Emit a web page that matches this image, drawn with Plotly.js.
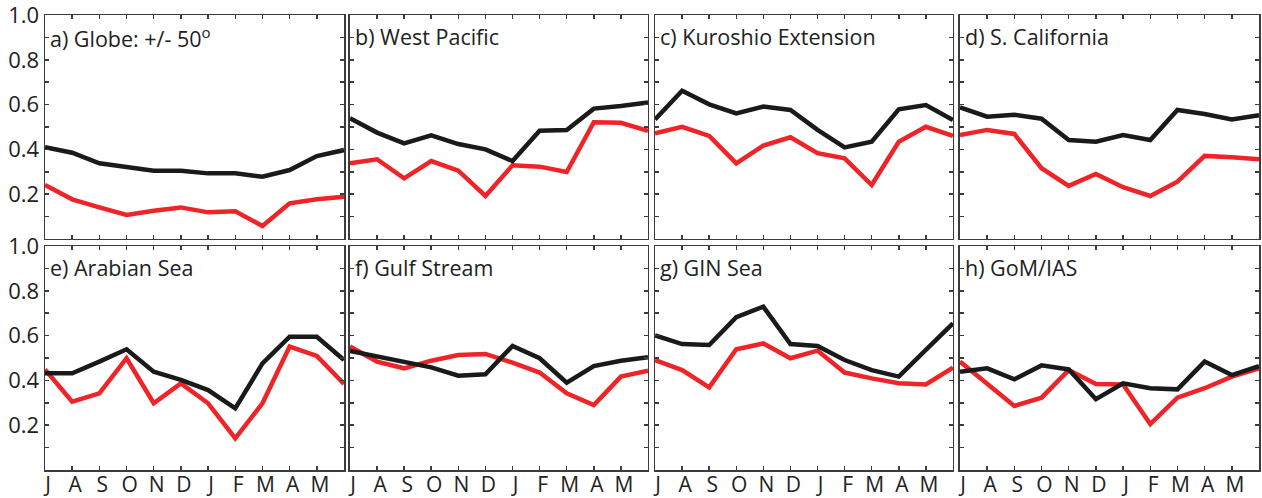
<!DOCTYPE html>
<html>
<head>
<meta charset="utf-8">
<script src="https://cdn.plot.ly/plotly-3.0.1.min.js"></script>
<style>
  html, body { margin: 0; padding: 0; background: #fff; }
  #chart { width: 1262px; height: 498px; }
</style>
</head>
<body>
<div id="chart"></div>
<script>
// Month labels, July through the following June
const monthLabels = ['J', 'A', 'S', 'O', 'N', 'D', 'J', 'F', 'M', 'A', 'M', ''];
const monthIndex = [0, 1, 2, 3, 4, 5, 6, 7, 8, 9, 10, 11];

// Panel titles
const panelTitles = [
  'a) Globe: +/- 50<sup>o</sup>', 'b) West Pacific', 'c) Kuroshio Extension', 'd) S. California',
  'e) Arabian Sea', 'f) Gulf Stream', 'g) GIN Sea', 'h) GoM/IAS'
];

// Black curve per region
const globeBlack     = [0.41, 0.385, 0.338, 0.323, 0.305, 0.305, 0.293, 0.293, 0.278, 0.308, 0.37, 0.397];
const westPacBlack   = [0.539, 0.475, 0.427, 0.463, 0.424, 0.400, 0.348, 0.483, 0.487, 0.582, 0.594, 0.609];
const kuroshioBlack  = [0.534, 0.662, 0.601, 0.561, 0.591, 0.576, 0.487, 0.409, 0.434, 0.579, 0.598, 0.531];
const sCalBlack      = [0.588, 0.546, 0.555, 0.537, 0.442, 0.434, 0.464, 0.442, 0.576, 0.558, 0.534, 0.552];
const arabianBlack   = [0.432, 0.432, 0.484, 0.539, 0.439, 0.402, 0.357, 0.275, 0.476, 0.595, 0.595, 0.491];
const gulfBlack      = [0.531, 0.506, 0.484, 0.458, 0.421, 0.427, 0.554, 0.499, 0.390, 0.464, 0.488, 0.503];
const ginBlack       = [0.601, 0.562, 0.558, 0.682, 0.729, 0.562, 0.554, 0.491, 0.446, 0.417, 0.536, 0.655];
const gomBlack       = [0.439, 0.454, 0.405, 0.467, 0.449, 0.316, 0.387, 0.365, 0.360, 0.484, 0.424, 0.464];

// Red curve per region
const globeRed       = [0.241, 0.177, 0.141, 0.107, 0.126, 0.141, 0.119, 0.124, 0.058, 0.159, 0.177, 0.189];
const westPacRed     = [0.338, 0.356, 0.271, 0.348, 0.305, 0.192, 0.329, 0.323, 0.299, 0.521, 0.519, 0.483];
const kuroshioRed    = [0.472, 0.501, 0.460, 0.338, 0.417, 0.454, 0.383, 0.360, 0.241, 0.434, 0.501, 0.460];
const sCalRed        = [0.464, 0.487, 0.469, 0.316, 0.237, 0.290, 0.231, 0.192, 0.256, 0.371, 0.365, 0.356];
const arabianRed     = [0.449, 0.305, 0.342, 0.499, 0.298, 0.387, 0.298, 0.141, 0.298, 0.551, 0.509, 0.384];
const gulfRed        = [0.551, 0.484, 0.454, 0.488, 0.513, 0.518, 0.479, 0.435, 0.342, 0.290, 0.417, 0.443];
const ginRed         = [0.491, 0.446, 0.369, 0.539, 0.565, 0.499, 0.533, 0.435, 0.409, 0.387, 0.382, 0.457];
const gomRed         = [0.484, 0.384, 0.286, 0.323, 0.446, 0.384, 0.382, 0.205, 0.323, 0.365, 0.417, 0.454];

// Y tick labels (every 0.1 tick, label every 0.2)
const yTickVals  = [0.1, 0.2, 0.3, 0.4, 0.5, 0.6, 0.7, 0.8, 0.9, 1.0];
const yTickText  = ['', '0.2', '', '0.4', '', '0.6', '', '0.8', '', '1.0'];

const blackSeries = [globeBlack, westPacBlack, kuroshioBlack, sCalBlack, arabianBlack, gulfBlack, ginBlack, gomBlack];
const redSeries   = [globeRed, westPacRed, kuroshioRed, sCalRed, arabianRed, gulfRed, ginRed, gomRed];

const FONT = 'Open Sans, Noto Sans, sans-serif';
const BLACK = '#1a1a1a';
const RED = '#ee2428';
const AXIS = '#3c3c3c';
const TEXT = '#222';

// Panel domains, 4 columns x 2 rows
const xDomains = [[0, 0.2463], [0.2512, 0.4967], [0.5025, 0.7479], [0.7537, 1]];
const yDomains = [[0.5077, 1], [0, 0.4923]];

const traces = [];
const layout = {
  width: 1262, height: 498,
  margin: { l: 45, r: 3, t: 15, b: 28 },
  paper_bgcolor: '#fff', plot_bgcolor: '#fff',
  showlegend: false,
  font: { family: FONT, size: 20, color: TEXT },
  annotations: []
};

for (let p = 0; p < 8; p++) {
  const row = Math.floor(p / 4), col = p % 4;
  const n = p + 1;
  const xa = n === 1 ? 'x' : 'x' + n;
  const ya = n === 1 ? 'y' : 'y' + n;

  traces.push({
    x: monthIndex, y: redSeries[p], xaxis: xa, yaxis: ya,
    mode: 'lines', line: { color: RED, width: 4.5 }, hoverinfo: 'skip'
  });
  traces.push({
    x: monthIndex, y: blackSeries[p], xaxis: xa, yaxis: ya,
    mode: 'lines', line: { color: BLACK, width: 4.5 }, hoverinfo: 'skip'
  });

  layout['xaxis' + (n === 1 ? '' : n)] = {
    domain: xDomains[col], anchor: ya, range: [0, 11],
    tickmode: 'array', tickvals: monthIndex, ticktext: monthLabels,
    showticklabels: row === 1,
    ticks: 'inside', ticklen: 4, tickwidth: 1.5, tickcolor: AXIS,
    showline: true, linecolor: AXIS, linewidth: 1.5, mirror: 'ticks',
    showgrid: false, zeroline: false, fixedrange: true,
    ticklabelstandoff: -5, ticklabelshift: 3, ticklabeloverflow: 'allow',
    tickfont: { family: FONT, size: 21, color: TEXT }
  };
  layout['yaxis' + (n === 1 ? '' : n)] = {
    domain: yDomains[row], anchor: xa, range: [0, 1],
    tickmode: 'array', tickvals: yTickVals, ticktext: yTickText,
    showticklabels: col === 0,
    ticks: 'inside', ticklen: 4, tickwidth: 1.5, tickcolor: AXIS,
    showline: true, linecolor: AXIS, linewidth: 1.5, mirror: 'ticks',
    showgrid: false, zeroline: false, fixedrange: true,
    ticklabeloverflow: 'allow',
    tickfont: { family: FONT, size: 22, color: TEXT }
  };

  layout.annotations.push({
    text: panelTitles[p], xref: xa + ' domain', yref: ya + ' domain',
    x: 0, y: 1, xanchor: 'left', yanchor: 'top', xshift: 3, yshift: -5,
    showarrow: false, font: { family: FONT, size: 21.5, color: TEXT }
  });
}

Plotly.newPlot('chart', traces, layout, { displayModeBar: false, staticPlot: true });
</script>
</body>
</html>
